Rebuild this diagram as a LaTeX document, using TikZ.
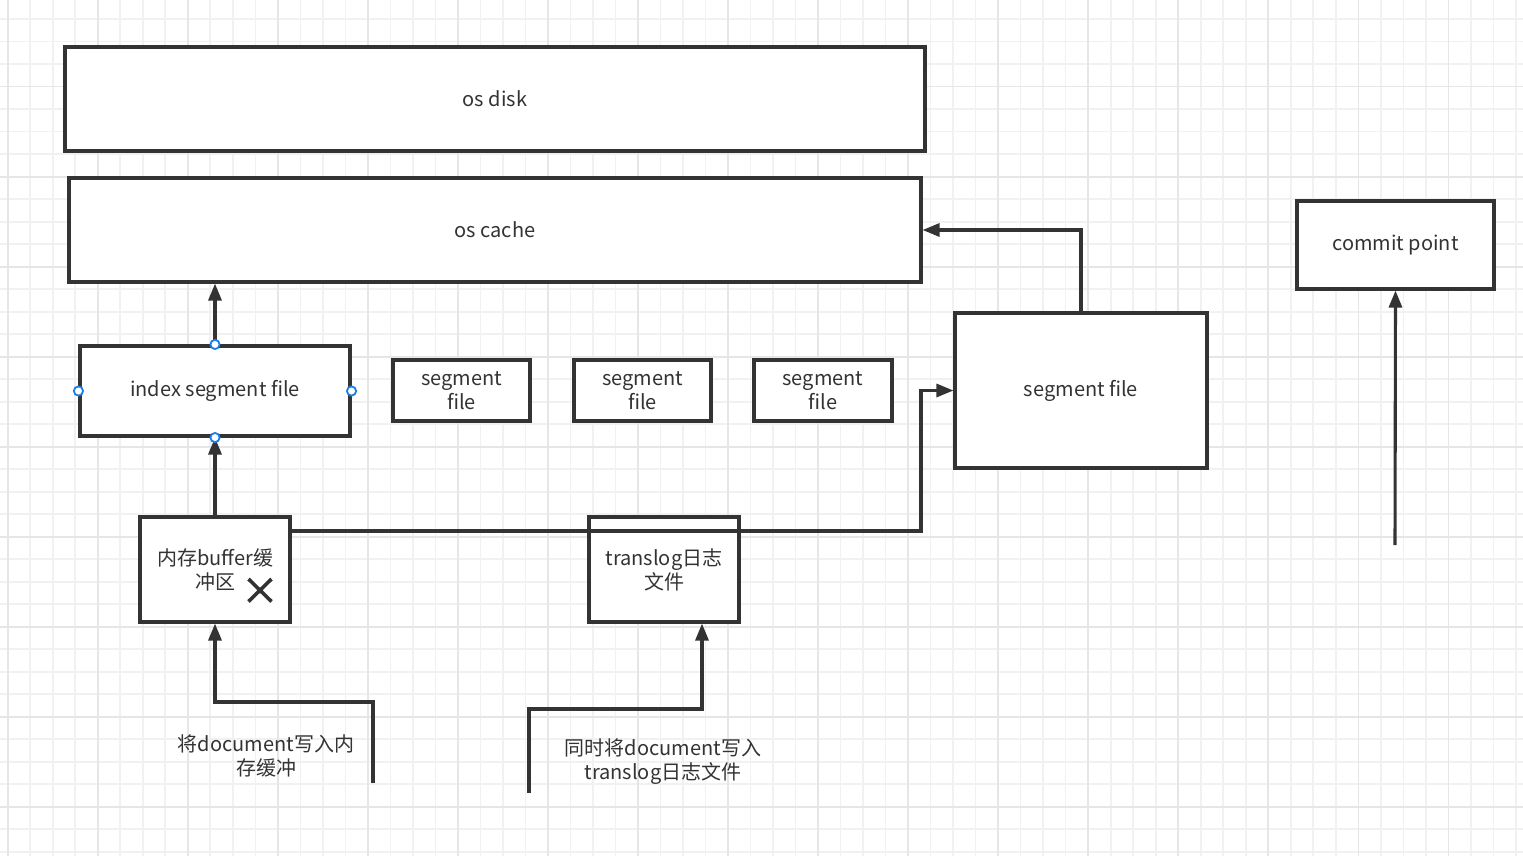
\documentclass[tikz,border=0pt]{standalone}
\usepackage{fontspec}
\setmainfont{Noto Sans CJK SC}
\usetikzlibrary{arrows.meta}
\definecolor{ink}{HTML}{333333}
\definecolor{gridminor}{HTML}{F1F1F1}
\definecolor{gridmajor}{HTML}{E6E6E6}
\definecolor{handle}{HTML}{1A7FE8}
\tikzset{
  box/.style={draw=ink, line width=3.1pt, fill=white, text=ink, align=center,
    inner sep=0pt, font=\fontsize{20}{24}\selectfont},
  plain/.style={text=ink, align=center, inner sep=0pt, font=\fontsize{20}{24}\selectfont},
  conn/.style={draw=ink, line width=3.1pt},
  arr/.style={conn, -{Triangle[length=17pt,width=13pt]}},
  hnd/.style={draw=handle, fill=white, line width=1.8pt},
}
\begin{document}
\begin{tikzpicture}[x=1pt,y=-1pt]
\useasboundingbox (0,0) rectangle (1523,856);
\fill[white] (0,0) rectangle (1523,856);
% grid
\foreach \i in {0,...,67} {\draw[gridminor, line width=1.6pt] ({7.7+22.51*\i},0) -- ({7.7+22.51*\i},856);}
\foreach \j in {1,...,38} {\draw[gridminor, line width=1.6pt] (0,{-3.3+22.5*\j}) -- (1523,{-3.3+22.5*\j});}
\foreach \i in {0,4,...,64} {\draw[gridmajor, line width=1.6pt] ({7.7+22.51*\i},0) -- ({7.7+22.51*\i},856);}
\foreach \j in {4,8,...,36} {\draw[gridmajor, line width=1.6pt] (0,{-3.3+22.5*\j}) -- (1523,{-3.3+22.5*\j});}

% boxes
\node[box, minimum width=860, minimum height=104] (disk) at (495,99) {os disk};
\node[box, minimum width=852, minimum height=104] (cache) at (495,230) {os cache};
\node[box, minimum width=270, minimum height=90] (idx) at (215,391) {index segment file};
\node[box, minimum width=137, minimum height=61] (sf1) at (461.5,390.5) {segment\\file};
\node[box, minimum width=137, minimum height=61] (sf2) at (642.5,390.5) {segment\\file};
\node[box, minimum width=138, minimum height=61] (sf3) at (823,390.5) {segment\\file};
\node[box, minimum width=252, minimum height=155] (seg) at (1081,390.5) {segment file};
\node[box, minimum width=197, minimum height=88] (commit) at (1395.5,245) {commit point};
\node[box, minimum width=150, minimum height=105] (buf) at (215,569.5) {内存buffer缓\\冲区};
\node[box, minimum width=150, minimum height=105] (tlog) at (664,569.5) {translog日志\\文件};

% X mark
\draw[ink, line width=3.6pt] (248.5,579) -- (271.5,601.5) (271.5,579) -- (248.5,601.5);

% labels
\node[plain] (lbl1) at (266,756) {将document写入内\\存缓冲};
\node[plain] (lbl2) at (663,762) {同时将document写入\\translog日志文件};

% free ends
\coordinate (j1) at (921,531);
\coordinate (c0) at (1395,545);
\coordinate (d0) at (373,783);
\coordinate (d1) at (373,702);
\coordinate (e0) at (529,793);
\coordinate (e1) at (529,709);

% connectors
\draw[arr] (buf.north) -- (idx.south);
\draw[arr] (idx.north) -- (idx.north |- cache.south);
\draw[arr] (seg.north) |- (cache.east);
\draw[arr] (buf.east |- j1) -- (j1) |- (seg.west);
\draw[arr] (c0) -- (commit.south);
\draw[arr] (d0) -- (d1) -| (buf.south);
\draw[arr] (e0) -- (e1) -| ([xshift=38pt]tlog.south);

% selection handles
\foreach \a in {north,south,east,west} {\draw[hnd] (idx.\a) circle (4.6);}
\end{tikzpicture}
\end{document}
